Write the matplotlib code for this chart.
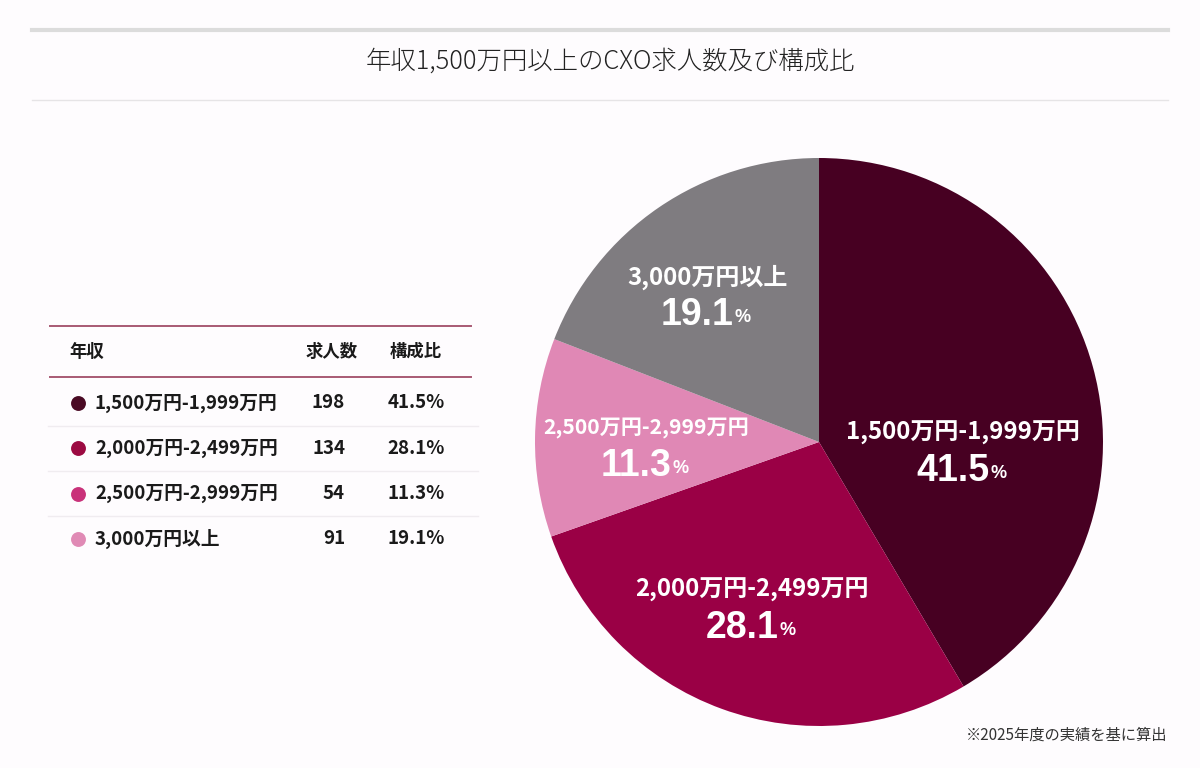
import matplotlib.pyplot as plt
from matplotlib.lines import Line2D

plt.rcParams["font.family"] = ["Noto Sans CJK JP", "DejaVu Sans"]

# data
categories = ["1,500万円-1,999万円", "2,000万円-2,499万円", "2,500万円-2,999万円", "3,000万円以上"]
counts = [198, 134, 54, 91]
shares = [41.5, 28.1, 11.3, 19.1]

pie_colors = ["#470022", "#9a0045", "#e088b5", "#7f7c80"]
dot_colors = ["#4a0a24", "#9c0a42", "#c9327a", "#e08ab5"]

# label anchors inside the pie (unit-radius coords) for the name line
label_pos = [(0.507, 0.032), (-0.236, -0.521), (-0.609, 0.049), (-0.394, 0.581)]
name_sizes = [17.3, 17.3, 15.2, 17.3]

BG = "#fefcfe"
fig = plt.figure(figsize=(12, 7.68), dpi=100, facecolor=BG)

# background axes in pixel coords for header + table
bg = fig.add_axes([0, 0, 1, 1])
bg.set_xlim(0, 1200)
bg.set_ylim(768, 0)
bg.axis("off")
bg.set_facecolor(BG)

bg.add_line(Line2D([32, 1168], [29.5, 29.5], color="#dcdcdc", lw=3))
bg.add_line(Line2D([32, 1168], [100, 100], color="#e6e4e6", lw=1))
bg.text(610, 61, "年収1,500万円以上のCXO求人数及び構成比", ha="center", va="center",
        fontsize=18.3, color="#222222", fontweight="light")

# table
rule = "#a85a74"
bg.add_line(Line2D([50, 471], [326, 326], color=rule, lw=1.4))
bg.add_line(Line2D([50, 471], [377, 377], color=rule, lw=1.4))
hdr = dict(va="center", fontsize=12.5, fontweight="bold", color="#1a1a1a")
bg.text(69, 352, "年収", ha="left", **hdr)
bg.text(332, 352, "求人数", ha="center", **hdr)
bg.text(416, 352, "構成比", ha="center", **hdr)

row0, step = 403, 45.3
for i, (cat, n, s) in enumerate(zip(categories, counts, shares)):
    y = row0 + i * step
    bg.scatter([78], [y], s=115, color=dot_colors[i], zorder=3, linewidths=0)
    bg.text(95, y, cat, ha="left", va="center", fontsize=13.5, fontweight="bold", color="#1a1a1a")
    bg.text(345, y, str(n), ha="right", va="center", fontsize=13.5, fontweight="bold", color="#1a1a1a")
    bg.text(445, y, f"{s}%", ha="right", va="center", fontsize=13.5, fontweight="bold", color="#1a1a1a")
    if i < len(categories) - 1:
        bg.add_line(Line2D([48, 478], [y + step / 2, y + step / 2], color="#f0ecf0", lw=1))

bg.text(1167, 735, "※2025年度の実績を基に算出", ha="right", va="center",
        fontsize=11, color="#333333")

# pie
ax = fig.add_axes([(819 - 284) / 1200, (768 - 442 - 284) / 768, 568 / 1200, 568 / 768])
ax.pie(shares, colors=pie_colors, startangle=90, counterclock=False,
       wedgeprops=dict(linewidth=0))
ax.set_xlim(-1, 1)
ax.set_ylim(-1, 1)
ax.set_aspect("equal")
ax.axis("off")

for (x, y), fs, cat, s in zip(label_pos, name_sizes, categories, shares):
    ax.text(x, y, cat, ha="center", va="center", fontsize=fs, fontweight="bold", color="white")
    num = ax.text(x - 0.035, y - 0.135, f"{s}", ha="center", va="center", fontsize=27,
                  fontweight="bold", color="white", family=["Liberation Sans", "DejaVu Sans"])
    ax.annotate("%", xy=(1, 0.2), xycoords=num, xytext=(0.5, 0), textcoords="offset points",
                ha="left", va="bottom", fontsize=13, fontweight="bold", color="white",
                family=["Liberation Sans", "DejaVu Sans"])

fig.savefig("out.png", dpi=100, facecolor=BG)
